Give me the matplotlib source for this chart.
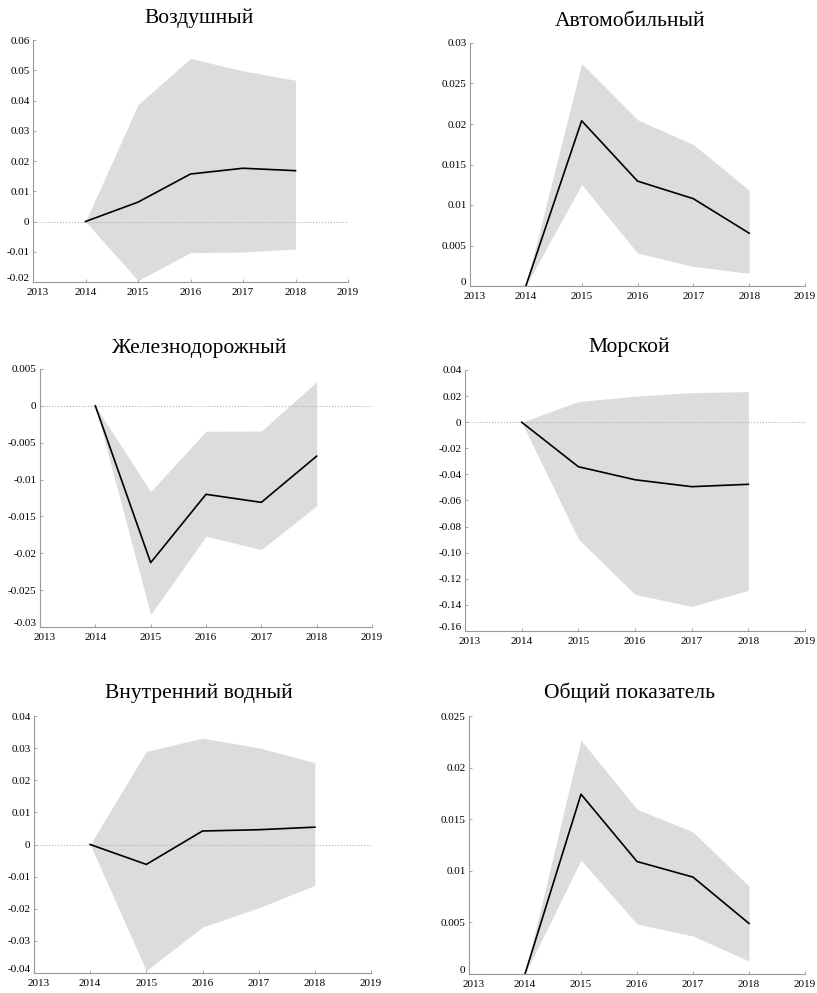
import matplotlib
matplotlib.use('Agg')
import matplotlib.pyplot as plt
from matplotlib.transforms import ScaledTranslation
import numpy as np

plt.rcParams['font.family'] = ['Liberation Serif', 'DejaVu Serif']

years = [2014, 2015, 2016, 2017, 2018]

titles = ['Воздушный', 'Автомобильный', 'Железнодорожный',
          'Морской', 'Внутренний водный', 'Общий показатель']

# impulse response (line) and confidence band (lower/upper)
air_mid = [0.0, 0.0064, 0.0157, 0.0176, 0.0168]
air_lo = [0.0, -0.0195, -0.0103, -0.0101, -0.0091]
air_hi = [0.0, 0.0386, 0.0539, 0.0498, 0.0467]

auto_mid = [0.0, 0.0204, 0.01295, 0.01078, 0.00652]
auto_lo = [0.0, 0.01254, 0.00406, 0.00242, 0.00156]
auto_hi = [0.0, 0.02746, 0.02053, 0.01746, 0.01184]

rail_mid = [0.0, -0.02127, -0.0120, -0.01309, -0.00682]
rail_lo = [0.0, -0.02832, -0.01768, -0.0195, -0.01355]
rail_hi = [0.0, -0.01164, -0.00345, -0.00341, 0.00327]

sea_mid = [0.0, -0.0341, -0.0441, -0.0494, -0.0476]
sea_lo = [0.0, -0.0894, -0.132, -0.1411, -0.1289]
sea_hi = [0.0, 0.0158, 0.0199, 0.0227, 0.0234]

inland_mid = [0.0, -0.0062, 0.0042, 0.0046, 0.0054]
inland_lo = [0.0, -0.0393, -0.0257, -0.0197, -0.0127]
inland_hi = [0.0, 0.0290, 0.0331, 0.0301, 0.0255]

total_mid = [0.0, 0.01742, 0.0109, 0.00939, 0.0049]
total_lo = [0.0, 0.01103, 0.00484, 0.00368, 0.00126]
total_hi = [0.0, 0.02265, 0.01597, 0.01377, 0.00852]

series = [(air_mid, air_lo, air_hi), (auto_mid, auto_lo, auto_hi),
          (rail_mid, rail_lo, rail_hi), (sea_mid, sea_lo, sea_hi),
          (inland_mid, inland_lo, inland_hi), (total_mid, total_lo, total_hi)]

yticks = [
    [-0.02, -0.01, 0, 0.01, 0.02, 0.03, 0.04, 0.05, 0.06],
    [0, 0.005, 0.01, 0.015, 0.02, 0.025, 0.03],
    [-0.03, -0.025, -0.02, -0.015, -0.01, -0.005, 0, 0.005],
    [-0.16, -0.14, -0.12, -0.10, -0.08, -0.06, -0.04, -0.02, 0, 0.02, 0.04],
    [-0.04, -0.03, -0.02, -0.01, 0, 0.01, 0.02, 0.03, 0.04],
    [0, 0.005, 0.01, 0.015, 0.02, 0.025],
]
ylabels = [
    ['-0.02', '-0.01', '0', '0.01', '0.02', '0.03', '0.04', '0.05', '0.06'],
    ['0', '0.005', '0.01', '0.015', '0.02', '0.025', '0.03'],
    ['-0.03', '-0.025', '-0.02', '-0.015', '-0.01', '-0.005', '0', '0.005'],
    ['-0.16', '-0.14', '-0.12', '-0.10', '-0.08', '-0.06', '-0.04', '-0.02', '0', '0.02', '0.04'],
    ['-0.04', '-0.03', '-0.02', '-0.01', '0', '0.01', '0.02', '0.03', '0.04'],
    ['0', '0.005', '0.01', '0.015', '0.02', '0.025'],
]
xticks = [2013, 2014, 2015, 2016, 2017, 2018, 2019]

W, H = 817, 993
# axes boxes in pixels: left, right, top, bottom
boxes = [(33, 348, 40, 282), (470, 805, 43, 286),
         (40, 372, 369, 627), (465, 805, 370, 631),
         (34, 371, 716, 973), (469, 805, 716, 974)]
title_pos = [(199, 18), (630, 21), (199, 348), (629, 347), (199, 693), (630, 693)]

fig = plt.figure(figsize=(W / 100, H / 100), dpi=100)

for i, (l, r, t, b) in enumerate(boxes):
    ax = fig.add_axes([l / W, 1 - b / H, (r - l) / W, (b - t) / H])
    mid, lo, hi = series[i]
    ax.fill_between(years, lo, hi, color='#dcdcdc', linewidth=0)
    ax.axhline(0, color='#b0b0b0', linestyle=':', linewidth=0.8)
    ax.plot(years, mid, color='black', linewidth=1.2)
    ax.set_xlim(2013, 2019)
    ax.set_ylim(yticks[i][0], yticks[i][-1])
    ax.set_xticks(xticks)
    ax.set_xticklabels([str(x) for x in xticks])
    ax.set_yticks(yticks[i])
    ax.set_yticklabels(ylabels[i])
    for s in ['top', 'right']:
        ax.spines[s].set_visible(False)
    for s in ['left', 'bottom']:
        ax.spines[s].set_color('#999999')
        ax.spines[s].set_linewidth(0.8)
    ax.tick_params(direction='in', length=2, width=0.6, color='#999999',
                   labelsize=8)
    ax.tick_params(axis='x', pad=4)
    ax.tick_params(axis='y', pad=2.5)
    # nudge the corner labels apart, as in the original
    ylab = ax.yaxis.get_major_ticks()[0].label1
    ylab.set_transform(ylab.get_transform() + ScaledTranslation(0, 3.5 / 72, fig.dpi_scale_trans))
    xlab = ax.xaxis.get_major_ticks()[0].label1
    xlab.set_transform(xlab.get_transform() + ScaledTranslation(3 / 72, 0, fig.dpi_scale_trans))
    ax.patch.set_alpha(0)
    fig.text(title_pos[i][0] / W, 1 - title_pos[i][1] / H, titles[i],
             ha='center', va='center', fontsize=15.5)

plt.savefig('out.png', dpi=100)
